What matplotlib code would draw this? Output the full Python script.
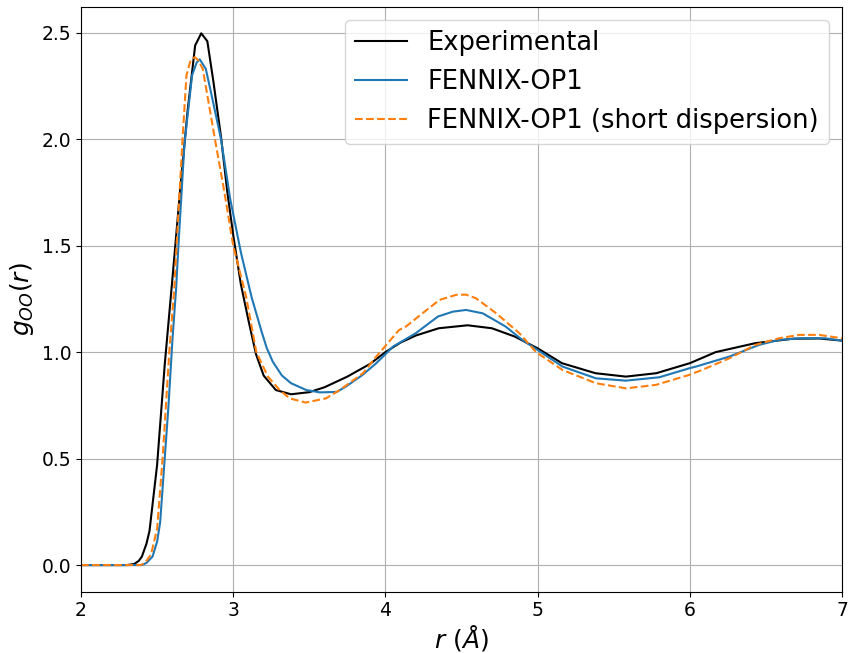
import matplotlib
matplotlib.use("Agg")
import matplotlib.pyplot as plt

# experimental O-O rdf
r_exp = [2.00, 2.30, 2.35, 2.38, 2.40, 2.43, 2.45, 2.50, 2.55, 2.60, 2.65, 2.70, 2.75, 2.79,
         2.83, 2.87, 2.92, 2.96, 3.00, 3.05, 3.10, 3.15, 3.20, 3.28, 3.38, 3.50,
         3.60, 3.75, 3.90, 4.00, 4.10, 4.20, 4.35, 4.54, 4.70, 4.85, 5.00, 5.16,
         5.38, 5.58, 5.78, 6.00, 6.17, 6.43, 6.68, 6.85, 7.00]
g_exp = [0.0, 0.0, 0.005, 0.02, 0.04, 0.10, 0.16, 0.47, 0.94, 1.34, 1.75, 2.13, 2.44, 2.497,
         2.46, 2.27, 2.01, 1.76, 1.55, 1.32, 1.15, 0.99, 0.89, 0.822, 0.802, 0.812,
         0.835, 0.885, 0.945, 1.0, 1.045, 1.078, 1.112, 1.126, 1.112, 1.073, 1.018, 0.948,
         0.901, 0.885, 0.901, 0.948, 1.0, 1.042, 1.063, 1.064, 1.054]

# FENNIX-OP1
r_op1 = [2.00, 2.40, 2.43, 2.47, 2.50, 2.52, 2.55, 2.575, 2.60, 2.625, 2.64, 2.68,
         2.73, 2.76, 2.78, 2.82, 2.86, 2.92, 2.98, 3.05, 3.12, 3.185, 3.22, 3.26,
         3.32, 3.38, 3.48, 3.57, 3.68, 3.74, 3.85, 3.94, 4.00, 4.05, 4.20, 4.345,
         4.443, 4.53, 4.64, 4.79, 4.90, 5.00, 5.164, 5.383, 5.58, 5.80, 5.996, 6.04,
         6.26, 6.455, 6.585, 6.72, 6.89, 7.00]
g_op1 = [0.0, 0.0, 0.01, 0.04, 0.11, 0.20, 0.50, 0.75, 1.05, 1.30, 1.50, 1.98,
         2.30, 2.36, 2.375, 2.33, 2.20, 2.00, 1.72, 1.47, 1.26, 1.10, 1.02, 0.955,
         0.89, 0.854, 0.822, 0.811, 0.813, 0.838, 0.893, 0.948, 0.99, 1.026, 1.089, 1.167,
         1.19, 1.198, 1.182, 1.12, 1.057, 1.01, 0.932, 0.877, 0.866, 0.882, 0.924, 0.932,
         0.979, 1.034, 1.057, 1.065, 1.065, 1.054]

# FENNIX-OP1 with short range dispersion
r_short = [2.00, 2.39, 2.42, 2.46, 2.50, 2.536, 2.58, 2.612, 2.628, 2.667, 2.693, 2.72,
           2.748, 2.77, 2.80, 2.88, 2.94, 3.00, 3.085, 3.152, 3.228, 3.305, 3.371, 3.476,
           3.61, 3.70, 3.853, 3.94, 4.09, 4.135, 4.245, 4.355, 4.465, 4.53, 4.595, 4.727,
           4.88, 4.99, 5.164, 5.383, 5.58, 5.777, 5.996, 6.08, 6.26, 6.43, 6.585, 6.72,
           6.85, 7.00]
g_short = [0.0, 0.0, 0.01, 0.05, 0.17, 0.50, 1.0, 1.29, 1.50, 2.0, 2.30, 2.37,
           2.385, 2.37, 2.33, 2.0, 1.76, 1.50, 1.26, 1.0, 0.885, 0.822, 0.783, 0.763,
           0.783, 0.822, 0.901, 0.979, 1.104, 1.12, 1.183, 1.245, 1.269, 1.27, 1.253, 1.183,
           1.089, 1.0, 0.916, 0.854, 0.830, 0.846, 0.893, 0.916, 0.971, 1.034, 1.065, 1.081,
           1.081, 1.065]

fig = plt.figure(figsize=(8.49, 6.53), dpi=100)
ax = fig.add_axes([81 / 849, 61.3 / 653, 761 / 849, 585 / 653])

ax.plot(r_exp, g_exp, color='k', label='Experimental')
ax.plot(r_op1, g_op1, color='C0', label='FENNIX-OP1')
ax.plot(r_short, g_short, color='C1', linestyle='--', label='FENNIX-OP1 (short dispersion)')

ax.set_xlim(2, 7)
ax.set_ylim(-0.125, 2.622)
ax.set_xlabel(r'$r\ (\AA)$', fontsize=18, labelpad=2)
ax.set_ylabel(r'$g_{OO}(r)$', fontsize=18)
ax.tick_params(labelsize=13.5)
ax.grid(True)
ax.legend(fontsize=18.5, loc='upper right')

fig.savefig('out.png', dpi=100)
